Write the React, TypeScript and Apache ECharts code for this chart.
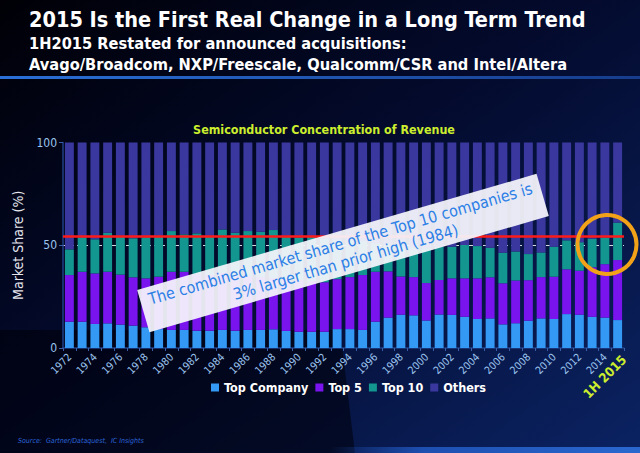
import React, { useEffect, useRef } from "react";
import * as echarts from "echarts";

const categories = [
  "1972", "1973", "1974", "1975", "1976", "1977", "1978", "1979", "1980", "1981",
  "1982", "1983", "1984", "1985", "1986", "1987", "1988", "1989", "1990", "1991",
  "1992", "1993", "1994", "1995", "1996", "1997", "1998", "1999", "2000", "2001",
  "2002", "2003", "2004", "2005", "2006", "2007", "2008", "2009", "2010", "2011",
  "2012", "2013", "2014", "1H 2015",
];

// cumulative shares (%)
const topCompany = [
  12.8, 12.8, 11.7, 12.0, 11.4, 10.9, 10.1, 9.2, 8.8, 8.8,
  8.4, 8.4, 8.8, 8.4, 8.8, 8.8, 9.1, 8.3, 7.9, 7.9,
  7.9, 9.2, 9.2, 8.8, 12.8, 14.8, 16.2, 15.9, 13.4, 16.3,
  16.1, 15.2, 14.1, 14.4, 11.5, 12.0, 13.3, 14.4, 14.1, 16.5,
  16.2, 15.2, 14.8, 13.6,
];
const top5Cum = [
  35.5, 37.1, 36.3, 37.1, 35.7, 34.4, 33.9, 34.7, 37.1, 37.1,
  36.0, 35.5, 36.5, 35.5, 35.0, 34.5, 34.0, 33.5, 33.0, 32.5,
  32.0, 33.5, 34.5, 35.5, 37.1, 37.3, 34.8, 34.5, 31.6, 33.1,
  33.9, 33.9, 33.9, 34.4, 31.5, 32.8, 33.0, 34.5, 34.7, 38.3,
  37.6, 39.3, 40.8, 42.8,
];
const top10Cum = [
  48.0, 53.9, 52.9, 56.1, 54.2, 53.4, 53.9, 54.2, 56.9, 55.3,
  55.8, 54.5, 57.7, 56.1, 56.9, 56.6, 57.4, 54.0, 53.8, 54.0,
  53.0, 52.5, 52.5, 52.0, 51.0, 50.5, 49.5, 49.0, 48.5, 49.3,
  49.3, 50.1, 49.6, 48.8, 46.4, 46.9, 45.7, 46.5, 49.3, 52.4,
  51.5, 53.2, 53.8, 61.0,
];
const priorHighLine = 54.5;
const yTicks = [0, 50, 100];

const seriesNames = ["Top Company", "Top 5", "Top 10", "Others"];
const colors = ["#3399F5", "#7A14EE", "#139690", "#3A389E"];

const FONT = "'DejaVu Sans Condensed', 'DejaVu Sans', sans-serif";

export default function App() {
  const ref = useRef<HTMLDivElement>(null);

  useEffect(() => {
    document.body.style.margin = "0";
    if (!ref.current) return;
    const chart = echarts.init(ref.current, null, { renderer: "svg" });

    const seg5 = top5Cum.map((v, i) => +(v - topCompany[i]).toFixed(1));
    const seg10 = top10Cum.map((v, i) => +(v - top5Cum[i]).toFixed(1));
    const others = top10Cum.map((v) => +(100 - v).toFixed(1));
    const segs = [topCompany, seg5, seg10, others];

    const lastIdx = categories.length - 1;

    const baseX = {
      type: "category",
      data: categories,
      position: "bottom",
    };

    chart.setOption({
      animation: false,
      backgroundColor: "transparent",
      graphic: [
        {
          type: "rect",
          z: -10,
          silent: true,
          shape: { x: 0, y: 0, width: 640, height: 453 },
          style: {
            fill: new echarts.graphic.LinearGradient(0, 0, 1, 1, [
              { offset: 0, color: "#000006" },
              { offset: 0.45, color: "#030a2c" },
              { offset: 1, color: "#0b2363" },
            ]),
          },
        },
        {
          type: "polygon",
          z: -9,
          silent: true,
          shape: { points: [[0, 330], [0, 453], [355, 453], [340, 330]] },
          style: { fill: "rgba(0,0,8,0.55)" },
        },
        {
          type: "rect",
          z: -8,
          silent: true,
          shape: { x: 0, y: 76, width: 640, height: 3 },
          style: {
            fill: new echarts.graphic.LinearGradient(0, 0, 1, 0, [
              { offset: 0, color: "#2a70d8" },
              { offset: 1, color: "#163c8c" },
            ]),
          },
        },
        {
          type: "rect",
          z: -8,
          silent: true,
          shape: { x: 330, y: 447, width: 310, height: 6 },
          style: {
            fill: new echarts.graphic.LinearGradient(0, 0, 1, 0, [
              { offset: 0, color: "rgba(30,80,180,0)" },
              { offset: 0.3, color: "#1d4fb0" },
              { offset: 1, color: "#2a68d0" },
            ]),
          },
        },
        {
          type: "text",
          x: 29,
          y: 19,
          style: {
            text: "2015 Is the First Real Change in a Long Term Trend",
            fill: "#ffffff",
            font: `bold 21.5px ${FONT}`,
            verticalAlign: "middle",
          },
        },
        {
          type: "text",
          x: 29,
          y: 43,
          style: {
            text: "1H2015 Restated for announced acquisitions:",
            fill: "#ffffff",
            font: `bold 16.3px ${FONT}`,
            verticalAlign: "middle",
          },
        },
        {
          type: "text",
          x: 29,
          y: 64,
          style: {
            text: "Avago/Broadcom, NXP/Freescale, Qualcomm/CSR and Intel/Altera",
            fill: "#ffffff",
            font: `bold 16.3px ${FONT}`,
            verticalAlign: "middle",
          },
        },
        {
          type: "text",
          x: 324,
          y: 129,
          style: {
            text: "Semiconductor Concentration of Revenue",
            fill: "#CCEE2E",
            font: `bold 12.4px ${FONT}`,
            align: "center",
            verticalAlign: "middle",
          },
        },
        {
          type: "text",
          x: 18,
          y: 441,
          style: {
            text: "Source:  Gartner/Dataquest,  IC Insights",
            fill: "#2a64d8",
            font: `italic 7px ${FONT}`,
            verticalAlign: "middle",
          },
        },
        {
          type: "circle",
          z: 100,
          shape: { cx: 607, cy: 244.5, r: 29.5 },
          style: { fill: "none", stroke: "#F2A218", lineWidth: 4 },
        },
        {
          type: "group",
          z: 100,
          x: 343,
          y: 253,
          rotation: (16.2 * Math.PI) / 180,
          children: [
            {
              type: "rect",
              z: 100,
              shape: { x: -208, y: -22, width: 416, height: 44 },
              style: { fill: "rgba(246,246,252,0.93)" },
            },
            {
              type: "text",
              z: 101,
              x: 0,
              y: 0,
              style: {
                text: "The combined market share of the Top 10 companies is\n3% larger than prior high (1984)",
                fill: "#2C7FE6",
                font: `16px ${FONT}`,
                align: "center",
                verticalAlign: "middle",
                lineHeight: 19,
              },
            },
          ],
        },
      ],
      legend: {
        data: seriesNames,
        top: 376,
        left: 206,
        icon: "rect",
        itemWidth: 8,
        itemHeight: 8,
        itemGap: 7,
        textStyle: { color: "#ffffff", fontWeight: "bold", fontSize: 12.5, fontFamily: FONT },
      },
      grid: { left: 63, right: 16, top: 142.5, bottom: 105, containLabel: false },
      xAxis: [
        {
          ...baseX,
          axisLine: { lineStyle: { color: "#1F3F86", width: 1.5 } },
          axisTick: { show: true, interval: 0, length: 3, lineStyle: { color: "#3a5ea8" } },
          axisLabel: {
            interval: (i: number) => i % 2 === 0 && i !== lastIdx,
            rotate: 45,
            color: "#9CC4EE",
            fontSize: 10.5,
            fontFamily: FONT,
            margin: 7,
          },
        },
        {
          ...baseX,
          axisLine: { show: false },
          axisTick: { show: false },
          splitLine: { show: false },
          axisLabel: {
            interval: (i: number) => i === lastIdx,
            showMaxLabel: true,
            rotate: 45,
            color: "#CCEE2E",
            fontWeight: "bold",
            fontSize: 13,
            fontFamily: FONT,
            margin: 16,
            padding: [0, -9, 0, 0],
          },
        },
      ],
      yAxis: {
        type: "value",
        min: yTicks[0],
        max: yTicks[yTicks.length - 1],
        interval: 50,
        name: "Market Share (%)",
        nameLocation: "middle",
        nameGap: 28,
        nameTextStyle: { color: "#E6E6EE", fontSize: 14, fontFamily: FONT },
        axisLine: { show: true, lineStyle: { color: "#1F3F86", width: 1.5 } },
        axisTick: { show: true, length: 4, lineStyle: { color: "#3a5ea8" } },
        axisLabel: { color: "#9CC4EE", fontSize: 12, fontFamily: FONT, margin: 6 },
        splitLine: {
          show: true,
          showMinLine: false,
          showMaxLine: false,
          lineStyle: { color: "#ffffff", type: [4, 3], width: 1, opacity: 0.85 },
        },
      },
      series: seriesNames.map((name, k) => ({
        name,
        type: "bar",
        stack: "total",
        xAxisIndex: 0,
        barCategoryGap: "30%",
        itemStyle: { color: colors[k] },
        data: segs[k],
        markLine:
          k === 3
            ? {
                silent: true,
                symbol: ["none", "none"],
                label: { show: false },
                lineStyle: { color: "#FF1A1A", width: 2.5, type: "solid" },
                data: [{ yAxis: priorHighLine }],
              }
            : undefined,
      })),
    });

    return () => chart.dispose();
  }, []);

  return (
    <div
      ref={ref}
      style={{ position: "absolute", left: 0, top: 0, width: 640, height: 453 }}
    />
  );
}
